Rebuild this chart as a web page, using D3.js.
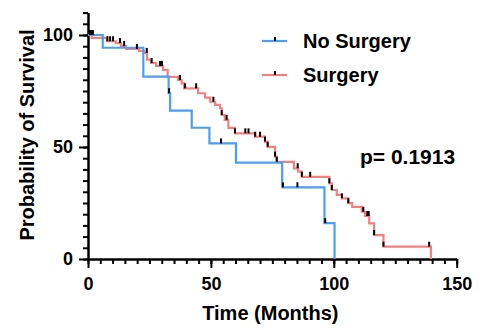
<!DOCTYPE html>
<html lang="en">

<head>
  <meta charset="UTF-8">
  <title>Survival by Surgery</title>
  <script src="https://d3js.org/d3.v7.min.js"></script>
  <style>
    body { margin: 0; background: #fff; }
    text { font-family: "Liberation Sans", Arial, sans-serif; font-weight: bold; }
  </style>
</head>

<body>

  <script>
    // Kaplan-Meier steps: time of each drop (months) and survival (%) after it
    const noSurgeryTime = [6.0, 22.5, 32.8, 33.4, 42.2, 49.4, 60.2, 79.0, 96.2, 100.3];
    const noSurgerySurv = [94.3, 81.4, 74.0, 66.2, 58.6, 51.6, 43.0, 32.0, 16.0, 0];
    const noSurgeryCensor = [2.0, 33.0, 54.1, 79.3, 85.2, 96.5];

    const surgeryTime = [1.5, 7.7, 11.3, 13.4, 15.5, 20.8, 22.8, 24.0, 25.6, 27.7, 30.5, 32.4, 36.6, 38.1,
      39.1, 44.8, 47.6, 49.7, 51.7, 53.7, 54.4, 55.6, 57.1, 59.8, 68.0, 72.0, 73.1, 76.1, 76.8, 83.8, 85.5,
      87.0, 98.2, 99.2, 101.2, 103.3, 105.9, 107.5, 111.4, 112.7, 114.4, 116.4, 120.2, 139.5];
    const surgerySurv = [98.7, 97.2, 96.4, 95.1, 93.8, 92.9, 92.0, 89.0, 87.5, 86.2, 84.4, 81.3, 79.9, 78.4,
      76.2, 74.0, 72.0, 70.2, 68.8, 67.3, 64.3, 62.1, 58.5, 56.1, 54.6, 52.4, 50.1, 45.7, 43.4, 40.5, 39.0,
      36.7, 33.8, 30.8, 28.6, 27.1, 24.9, 23.3, 21.1, 19.2, 15.9, 10.7, 5.5, 0];
    const surgeryCensor = [0.8, 1.2, 7.9, 9.0, 10.2, 13.0, 14.7, 19.9, 23.9, 25.9, 29.3, 30.1, 37.4, 39.5,
      44.0, 51.0, 54.4, 56.4, 59.8, 64.0, 65.3, 68.0, 70.0, 72.0, 73.1, 76.1, 76.8, 85.3, 87.0, 90.4, 98.2,
      99.2, 103.3, 105.9, 112.0, 113.6, 114.2, 116.4, 120.2, 138.8];

    const xMajor = [0, 50, 100, 150];
    const yMajor = [0, 50, 100];
    const pValue = 'p= 0.1913';

    const blue = '#4a9ef5';
    const red = '#f57f80';

    const width = 494;
    const height = 330;

    const svg = d3.select('body')
      .append('svg')
      .attr('width', width)
      .attr('height', height);

    const x = d3.scaleLinear().domain([0, 150]).range([88, 456.7]);
    const y = d3.scaleLinear().domain([0, 110]).range([259, 12.6]);

    // axes: minor ticks every 5, major ticks with labels
    const xg = svg.append('g').attr('transform', `translate(0,${y(0)})`);
    xg.call(d3.axisBottom(x).tickValues(d3.range(0, 151, 5)).tickSize(5).tickSizeOuter(0).tickFormat(''));
    xg.call(g => g.append('g').call(d3.axisBottom(x).tickValues(xMajor).tickSize(9).tickSizeOuter(0).tickPadding(9)));

    const yg = svg.append('g').attr('transform', `translate(${x(0)},0)`);
    yg.call(d3.axisLeft(y).tickValues(d3.range(0, 111, 5)).tickSize(5).tickSizeOuter(0).tickFormat(''));
    yg.call(g => g.append('g').call(d3.axisLeft(y).tickValues(yMajor).tickSize(9).tickSizeOuter(0).tickPadding(6)));

    svg.selectAll('.domain').attr('stroke', '#000').attr('stroke-width', 2);
    svg.selectAll('.tick line').attr('stroke', '#000').attr('stroke-width', 2);
    svg.selectAll('.tick text').attr('font-size', 18).attr('fill', '#000')
      .attr('font-family', '"Liberation Sans", Arial, sans-serif').attr('font-weight', 'bold');

    // axis titles
    svg.append('text')
      .attr('x', x(75) - 2)
      .attr('y', 320)
      .attr('text-anchor', 'middle')
      .attr('font-size', 20)
      .text('Time (Months)');

    svg.append('text')
      .attr('transform', 'rotate(-90)')
      .attr('x', -135)
      .attr('y', 34)
      .attr('text-anchor', 'middle')
      .attr('font-size', 20)
      .text('Probability of Survival');

    // step curves
    const stepLine = d3.line()
      .x(d => x(d[0]))
      .y(d => y(d[1]))
      .curve(d3.curveStepAfter);

    const points = (times, surv) => [[0, 100]].concat(times.map((t, i) => [t, surv[i]]));

    const survAt = (times, surv, t) => {
      let s = 100;
      times.forEach((tt, i) => { if (tt <= t) s = surv[i]; });
      return s;
    };

    const groups = [
      { times: surgeryTime, surv: surgerySurv, censor: surgeryCensor, color: red },
      { times: noSurgeryTime, surv: noSurgerySurv, censor: noSurgeryCensor, color: blue }
    ];

    groups.forEach(gr => {
      svg.append('path')
        .attr('d', stepLine(points(gr.times, gr.surv)))
        .attr('fill', 'none')
        .attr('stroke', gr.color)
        .attr('stroke-width', 2.2);
    });

    // censor ticks
    groups.forEach(gr => {
      svg.selectAll(null)
        .data(gr.censor)
        .enter()
        .append('line')
        .attr('x1', d => x(d))
        .attr('x2', d => x(d))
        .attr('y1', d => y(survAt(gr.times, gr.surv, d)))
        .attr('y2', d => y(survAt(gr.times, gr.surv, d)) - 5)
        .attr('stroke', '#000')
        .attr('stroke-width', 2);
    });

    // legend
    const legend = [
      { label: 'No Surgery', color: blue, y: 41 },
      { label: 'Surgery', color: red, y: 75 }
    ];
    legend.forEach(l => {
      svg.append('line')
        .attr('x1', 262).attr('x2', 287)
        .attr('y1', l.y).attr('y2', l.y)
        .attr('stroke', l.color).attr('stroke-width', 2.2);
      svg.append('line')
        .attr('x1', 275).attr('x2', 275)
        .attr('y1', l.y).attr('y2', l.y - 4)
        .attr('stroke', '#000').attr('stroke-width', 2);
      svg.append('text')
        .attr('x', 303)
        .attr('y', l.y + 7)
        .attr('font-size', 20)
        .text(l.label);
    });

    svg.append('text')
      .attr('x', 360)
      .attr('y', 164)
      .attr('font-size', 21)
      .text(pValue);
  </script>

</body>

</html>
